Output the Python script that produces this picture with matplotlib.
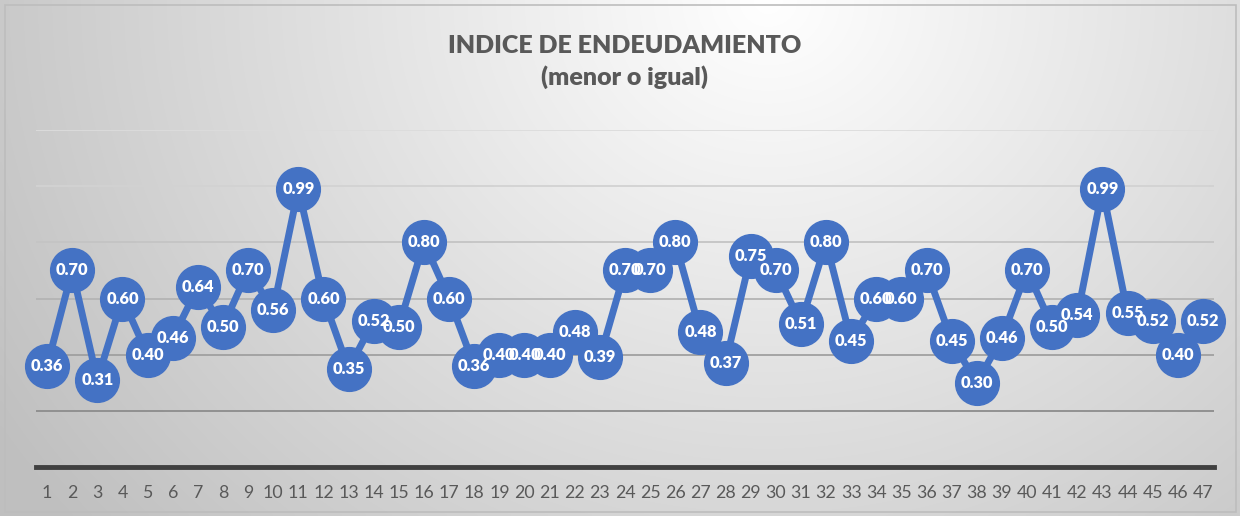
import numpy as np
import matplotlib
matplotlib.use("Agg")
import matplotlib.pyplot as plt
from matplotlib.patches import Rectangle

empresas = list(range(1, 48))
indice = [0.36, 0.70, 0.31, 0.60, 0.40, 0.46, 0.64, 0.50, 0.70, 0.56,
          0.99, 0.60, 0.35, 0.52, 0.50, 0.80, 0.60, 0.36, 0.40, 0.40,
          0.40, 0.48, 0.39, 0.70, 0.70, 0.80, 0.48, 0.37, 0.75, 0.70,
          0.51, 0.80, 0.45, 0.60, 0.60, 0.70, 0.45, 0.30, 0.46, 0.70,
          0.50, 0.54, 0.99, 0.55, 0.52, 0.40, 0.52]
grid_vals = [0.2, 0.4, 0.6, 0.8, 1.0, 1.2]
grid_cols = ["#8c8c8c", "#a0a0a0", "#b4b4b4", "#c4c4c4", "#d2d2d2", "#dcdcdc"]

titulo = "INDICE DE ENDEUDAMIENTO\n(menor o igual)"
azul = "#4472C4"

plt.rcParams['font.family'] = ['Lato', 'DejaVu Sans']

fig = plt.figure(figsize=(12.4, 5.16), dpi=100)

# fondo con degradado radial
bg = fig.add_axes([0, 0, 1, 1], zorder=-10)
xx, yy = np.meshgrid(np.linspace(0, 1, 400), np.linspace(0, 1, 200))
d = np.sqrt(((xx - 0.62) / 0.62) ** 2 + (0.75 * yy) ** 2)
val = np.clip(1.0 - 0.21 * d, 0.75, 1.0)
bg.imshow(np.dstack([val, val, val]), extent=[0, 1, 0, 1], origin="upper",
          aspect="auto", interpolation="bilinear")
bg.add_patch(Rectangle((5 / 1240, 4 / 516), 1231 / 1240, 507 / 516,
                       fill=False, edgecolor="#bdbdbd", lw=1.2))
bg.set_xlim(0, 1)
bg.set_ylim(0, 1)
bg.axis("off")

ax = fig.add_axes([36 / 1240, 1 - 467 / 516, (1214 - 36) / 1240, (467 - 130) / 516])
ax.patch.set_alpha(0)
ax.set_xlim(0.56, 47.44)
ax.set_ylim(0, 1.2)

for g, c in zip(grid_vals, grid_cols):
    ax.axhline(g, color=c, lw=1.3, zorder=1)

ax.plot(empresas, indice, color=azul, lw=5, marker="o", markersize=31.5,
        markerfacecolor=azul, markeredgecolor=azul, zorder=3, clip_on=False)

for x, v in zip(empresas, indice):
    ax.text(x, v, f"{v:.2f}", color="white", fontsize=11.8, fontweight="heavy",
            ha="center", va="center", zorder=5, clip_on=False)

for s in ["top", "right", "left"]:
    ax.spines[s].set_visible(False)
ax.spines["bottom"].set_color("#404040")
ax.spines["bottom"].set_linewidth(3.5)
ax.spines["bottom"].set_zorder(2)
ax.set_yticks([])
ax.set_xticks(empresas)
ax.set_xticklabels([str(e) for e in empresas])
ax.tick_params(axis="x", length=0, pad=13, labelsize=12.8, labelcolor="#595959")

fig.text(0.5035, 1 - 62 / 516, titulo, ha="center", va="center", fontsize=18,
         fontweight="heavy", color="#595959", linespacing=1.45)

fig.savefig("out.png", dpi=100)
